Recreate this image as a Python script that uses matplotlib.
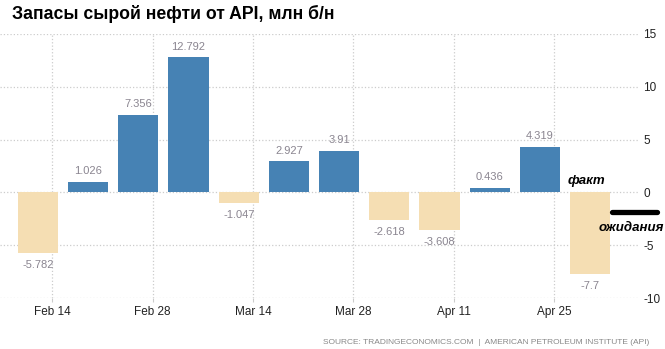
# API crude oil inventories, weekly change (mln barrels)
import numpy as np
import matplotlib.pyplot as plt

plt.rcParams['font.family'] = ['Liberation Sans', 'DejaVu Sans']

values = [-5.782, 1.026, 7.356, 12.792, -1.047, 2.927, 3.91,
          -2.618, -3.608, 0.436, 4.319, -7.7]
labels = ['-5.782', '1.026', '7.356', '12.792', '-1.047', '2.927', '3.91',
          '-2.618', '-3.608', '0.436', '4.319', '-7.7']
tick_labels = ['Feb 14', 'Feb 28', 'Mar 14', 'Mar 28', 'Apr 11', 'Apr 25']
tick_offset = 2 / 7  # label dates sit two days after the bar dates
forecast = -1.86

x = np.arange(len(values))
colors = ['#4682B4' if v >= 0 else '#F5DEB3' for v in values]

fig = plt.figure(figsize=(6.65, 3.49), dpi=100)
ax = fig.add_axes([0.0, 0.146, 0.959, 0.757])

ax.bar(x, values, width=0.8, color=colors, zorder=2)

for xi, v, lab in zip(x, values, labels):
    if v >= 0:
        ax.annotate(lab, (xi, v), xytext=(0, 4), textcoords='offset points',
                    ha='center', va='bottom', fontsize=8, color='#8a8590')
    else:
        ax.annotate(lab, (xi, v), xytext=(0, -5), textcoords='offset points',
                    ha='center', va='top', fontsize=8, color='#8a8590')

# forecast marker, drawn past the right edge of the axes
ax.plot([11.43, 12.33], [forecast, forecast], color='black', lw=3.8,
        solid_capstyle='round', clip_on=False, zorder=3)
ax.text(10.56, 1.05, 'факт', fontsize=9.5, fontweight='bold', style='italic',
        va='center', ha='left')
ax.text(11.17, -3.4, 'ожидания', fontsize=9.5, fontweight='bold', style='italic',
        va='center', ha='left')

ax.set_xlim(-0.757, 11.95)
ax.set_ylim(-10, 15)
ax.set_yticks([-10, -5, 0, 5, 10, 15])
ax.set_yticklabels(['-10', '-5', '0', '5', '10', '15'])
ax.set_xticks(np.arange(0, 12, 2) + tick_offset)
ax.set_xticklabels(tick_labels)

ax.yaxis.tick_right()
ax.tick_params(axis='y', length=0, pad=4, labelsize=8.5, labelcolor='#222222')
ax.tick_params(axis='x', length=3, color='#cccccc', pad=3, labelsize=8.5,
               labelcolor='#222222')
ax.grid(True, color='#cccccc', linestyle=':', linewidth=0.9, zorder=0)
ax.set_axisbelow(True)
for s in ax.spines.values():
    s.set_visible(False)

fig.text(0.018, 0.985, 'Запасы сырой нефти от API, млн б/н', fontsize=12.7,
         fontweight='bold', ha='left', va='top')
fig.text(0.977, 0.01,
         'SOURCE: TRADINGECONOMICS.COM  |  AMERICAN PETROLEUM INSTITUTE (API)',
         fontsize=6, color='#888888', ha='right', va='bottom')

fig.savefig('out.png', dpi=100)
